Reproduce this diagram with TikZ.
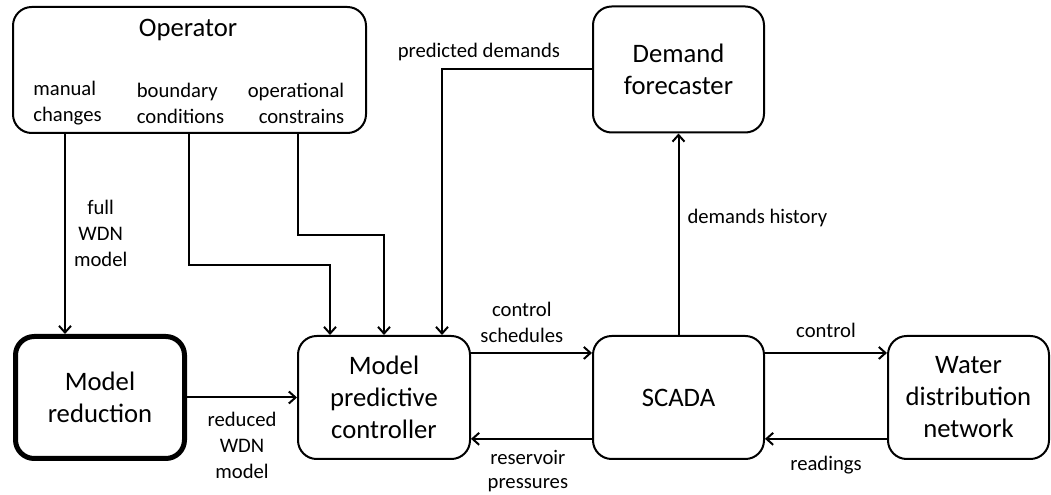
\documentclass[tikz,border=0pt]{standalone}
\usepackage{fontspec}
\setsansfont{Carlito}
\usepackage{tikz}
\usetikzlibrary{arrows.meta,positioning}
\tikzstyle{every picture}+=[font=\sffamily]

\begin{document}
\begin{tikzpicture}
		[font=\sffamily, x=0.75pt, y=-0.75pt, inner sep=0pt,
		block/.style	= {rectangle, draw, rounded corners=14pt, line width=1.5pt, align=center, font=\sffamily\fontsize{20}{24}\selectfont},
		topbox/.style	= {block, minimum height=94.5pt},
		lowbox/.style	= {block, minimum height=92.25pt},
		heavy/.style	= {line width=3.75pt},
		big/.style	= {font=\sffamily\fontsize{20}{24}\selectfont},
		small/.style	= {font=\sffamily\fontsize{15.5}{19.5}\selectfont, align=center},
		paths/.style	= {-{Straight Barb[length=5pt, width=9pt]}, line width=1.5pt}]
		
		\useasboundingbox (0, 0) rectangle (1051, 495);
		
		\node at (189.5, 70)	[topbox, minimum width=264.75pt]	(op)	{};
		\node at (188, 30)		[big]		(optitle)	{Operator};
		\node at (67.5, 103.5)	[small, align=left]		(man)	{manual\\changes};
		\node at (180.5, 103.5)	[small, align=left]		(bnd)	{boundary\\conditions};
		\node at (296, 103.5)	[small, align=right]	(opc)	{operational\\constrains};
		
		\node at (678.5, 69.5)	[topbox, minimum width=128.25pt]	(df)	{Demand\\forecaster};
		
		\node at (100, 397.5)	[lowbox, heavy, minimum width=126.75pt, minimum height=91.5pt]	(mr)	{Model\\reduction};
		\node at (384, 397.5)	[lowbox, minimum width=129pt]		(mpc)	{Model\\predictive\\controller};
		\node at (678.5, 397.5)	[lowbox, minimum width=128.25pt]	(scada)	{SCADA};
		\node at (968.5, 397.5)	[lowbox, minimum width=120.75pt]	(wdn)	{Water\\distribution\\network};
		
		\coordinate (o1) at (65, 133);
		\coordinate (o2) at (189, 133);
		\coordinate (o3) at (298, 133);
		
		\draw [paths] (o1) -- (o1 |- mr.north) node[small, midway, right=6pt] (lfull) {full\\WDN\\model};
		\draw [paths] (o2) -- ++(0, 132) -| ([xshift=-40.5pt]mpc.north);
		\draw [paths] (o3) -- ++(0, 102) -| (mpc.north);
		\draw [paths] (df.west) -| ([xshift=43.5pt]mpc.north) node[small, pos=.377, above=6pt] (lpred) {predicted demands};
		
		\draw [paths] (mr.east) -- (mpc.west) node[small, midway, below=10.5pt] (lred) {reduced\\WDN\\model};
		
		\draw [paths] ([yshift=33.4pt]mpc.east) -- ([yshift=33.4pt]scada.west) node[small, pos=.42, above=6.75pt] (lsched) {control\\schedules};
		\draw [paths] ([yshift=-31pt]scada.west) -- ([yshift=-31pt]mpc.east) node[small, font=\sffamily\fontsize{15.5}{18}\selectfont, pos=.53, below=8pt] (lres) {reservoir\\pressures};
		
		\draw [paths] ([yshift=33.4pt]scada.east) -- ([yshift=33.4pt]wdn.west) node[small, midway, above=10.5pt] (lctrl) {control};
		\draw [paths] ([yshift=-31pt]wdn.west) -- ([yshift=-31pt]scada.east) node[small, midway, below=12.5pt] (lread) {readings};
		
		\draw [paths] (scada.north) -- (df.south) node[small, pos=.58, right=6pt] (lhist) {demands history};
		
\end{tikzpicture}
\end{document}
